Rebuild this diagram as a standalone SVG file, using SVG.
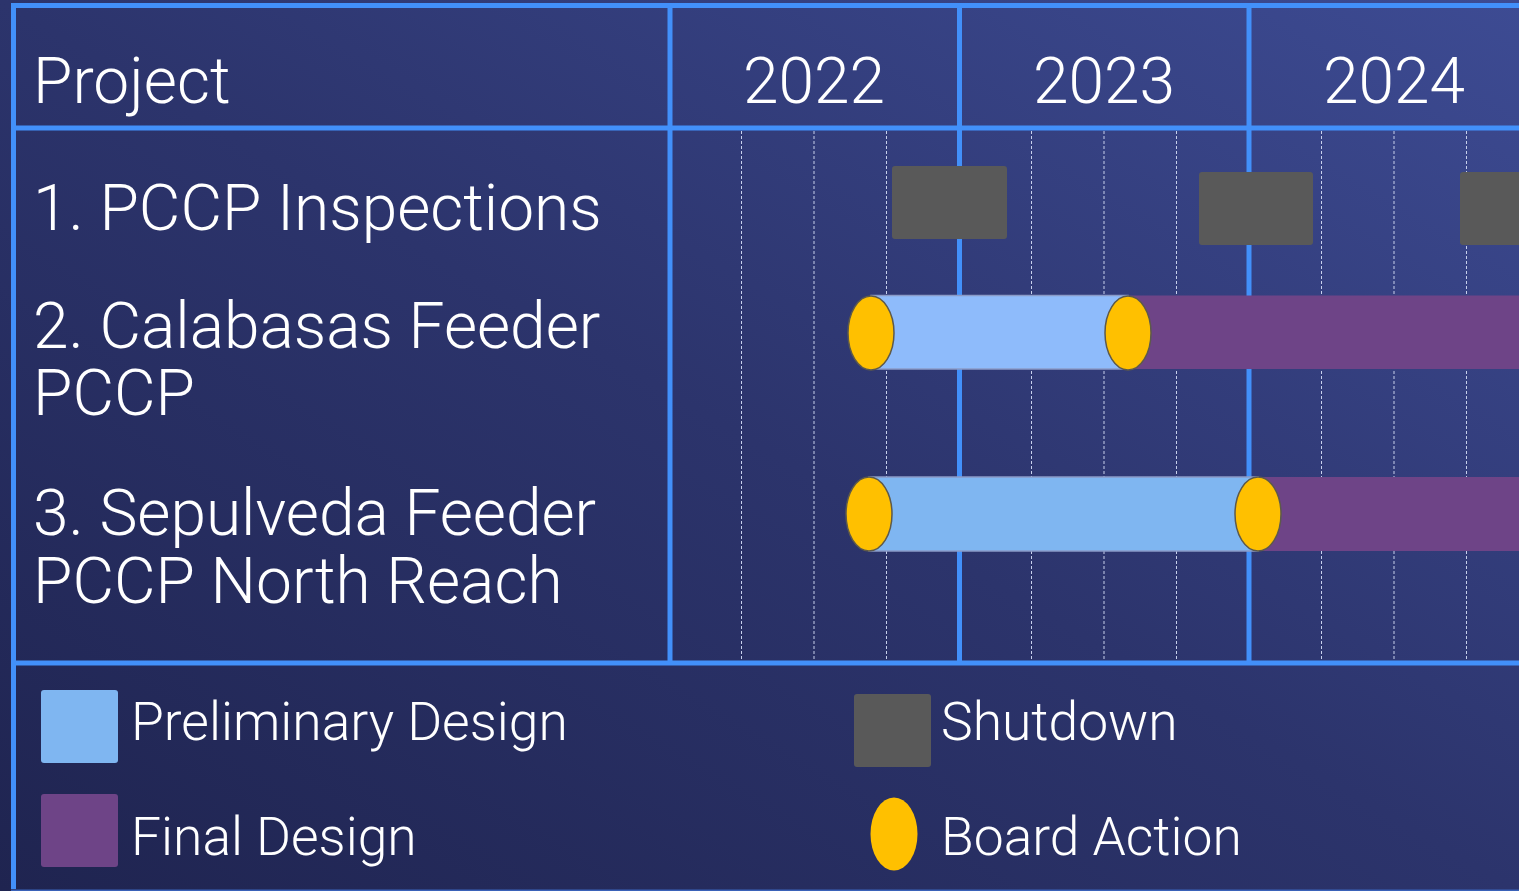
<svg xmlns="http://www.w3.org/2000/svg" width="1519" height="891" viewBox="0 0 1519 891">
<defs>
<linearGradient id="bg" x1="1" y1="0" x2="0" y2="1">
<stop offset="0" stop-color="#3D4B93"/>
<stop offset="0.5" stop-color="#2C346C"/>
<stop offset="1" stop-color="#1F2450"/>
</linearGradient>
</defs>
<style>
.grid{stroke:#4290FA;stroke-width:5;fill:none}
.dot{stroke:#C8D0EC;stroke-width:1;stroke-dasharray:3 2;fill:none}
.t{font-family:Roboto,"Liberation Sans",sans-serif;font-weight:300;fill:#FFFFFF}
.big{font-size:64px}
.leg{font-size:53.4px}
.shut{fill:#595959}
.prelim{fill:#8EBBFB;stroke:#8A9BC8;stroke-width:1.5}
.prelim2{fill:#7FB6F1;stroke:#8A9BC8;stroke-width:1.5}
.final{fill:#6E4487}
.board{fill:#FFC000;stroke:#5E5A4A;stroke-width:1.5}
</style>
<rect width="1519" height="891" fill="url(#bg)"/>
<g id="connectors">
<g id="dotted">
<line class="dot" x1="741.5" y1="131" x2="741.5" y2="660"/>
<line class="dot" x1="814" y1="131" x2="814" y2="660"/>
<line class="dot" x1="886.5" y1="131" x2="886.5" y2="660"/>
<line class="dot" x1="1031.5" y1="131" x2="1031.5" y2="660"/>
<line class="dot" x1="1104" y1="131" x2="1104" y2="660"/>
<line class="dot" x1="1176.5" y1="131" x2="1176.5" y2="660"/>
<line class="dot" x1="1321.5" y1="131" x2="1321.5" y2="660"/>
<line class="dot" x1="1394" y1="131" x2="1394" y2="660"/>
<line class="dot" x1="1466.5" y1="131" x2="1466.5" y2="660"/>
</g>
<g id="grid">
<line class="grid" x1="11" y1="5.5" x2="1519" y2="5.5"/>
<line class="grid" x1="13.5" y1="3" x2="13.5" y2="889"/>
<line class="grid" x1="11" y1="128" x2="1519" y2="128"/>
<line class="grid" x1="11" y1="663" x2="1519" y2="663"/>
<line x1="11" y1="890.2" x2="1519" y2="890.2" stroke="#3A62B8" stroke-width="1.6"/>
<line class="grid" x1="670" y1="3" x2="670" y2="663"/>
<line class="grid" x1="959.5" y1="3" x2="959.5" y2="663"/>
<line class="grid" x1="1249" y1="3" x2="1249" y2="663"/>
</g>
</g>
<g id="header">
<text class="t big" x="33" y="103">Project</text>
<text class="t big" x="814" y="103" text-anchor="middle">2022</text>
<text class="t big" x="1104" y="103" text-anchor="middle">2023</text>
<text class="t big" x="1394" y="103" text-anchor="middle">2024</text>
</g>
<g id="project1">
<text class="t big" x="33" y="230">1. PCCP Inspections</text>
<rect class="shut" x="892" y="166" width="115" height="73" rx="3"/>
<rect class="shut" x="1199" y="172" width="114" height="73" rx="3"/>
<rect class="shut" x="1460" y="172" width="70" height="73" rx="3"/>
</g>
<g id="project2">
<text class="t big" x="33" y="348">2. Calabasas Feeder</text>
<text class="t big" x="33" y="415">PCCP</text>
<rect class="final" x="1128" y="295.5" width="400" height="73.5"/>
<rect class="prelim" x="871" y="295.5" width="257" height="73.5"/>
<ellipse class="board" cx="871" cy="333" rx="23" ry="37"/>
<ellipse class="board" cx="1128" cy="333" rx="23" ry="37"/>
</g>
<g id="project3">
<text class="t big" x="33" y="535">3. Sepulveda Feeder</text>
<text class="t big" x="33" y="603">PCCP North Reach</text>
<rect class="final" x="1258" y="477" width="270" height="74"/>
<rect class="prelim2" x="869" y="477" width="389" height="74"/>
<ellipse class="board" cx="869" cy="514" rx="23" ry="37"/>
<ellipse class="board" cx="1258" cy="514" rx="23" ry="37"/>
</g>
<g id="legend">
<rect x="41" y="690" width="77" height="73" rx="3" fill="#7FB6F1"/>
<text class="t leg" x="131" y="740">Preliminary Design</text>
<rect x="41" y="794" width="77" height="73" rx="3" class="final"/>
<text class="t leg" x="131" y="855">Final Design</text>
<rect x="854" y="694" width="77" height="73" rx="3" class="shut"/>
<text class="t leg" x="941" y="740">Shutdown</text>
<ellipse cx="894" cy="834" rx="23.5" ry="36.5" fill="#FFC000"/>
<text class="t leg" x="941" y="855">Board Action</text>
</g>
</svg>
